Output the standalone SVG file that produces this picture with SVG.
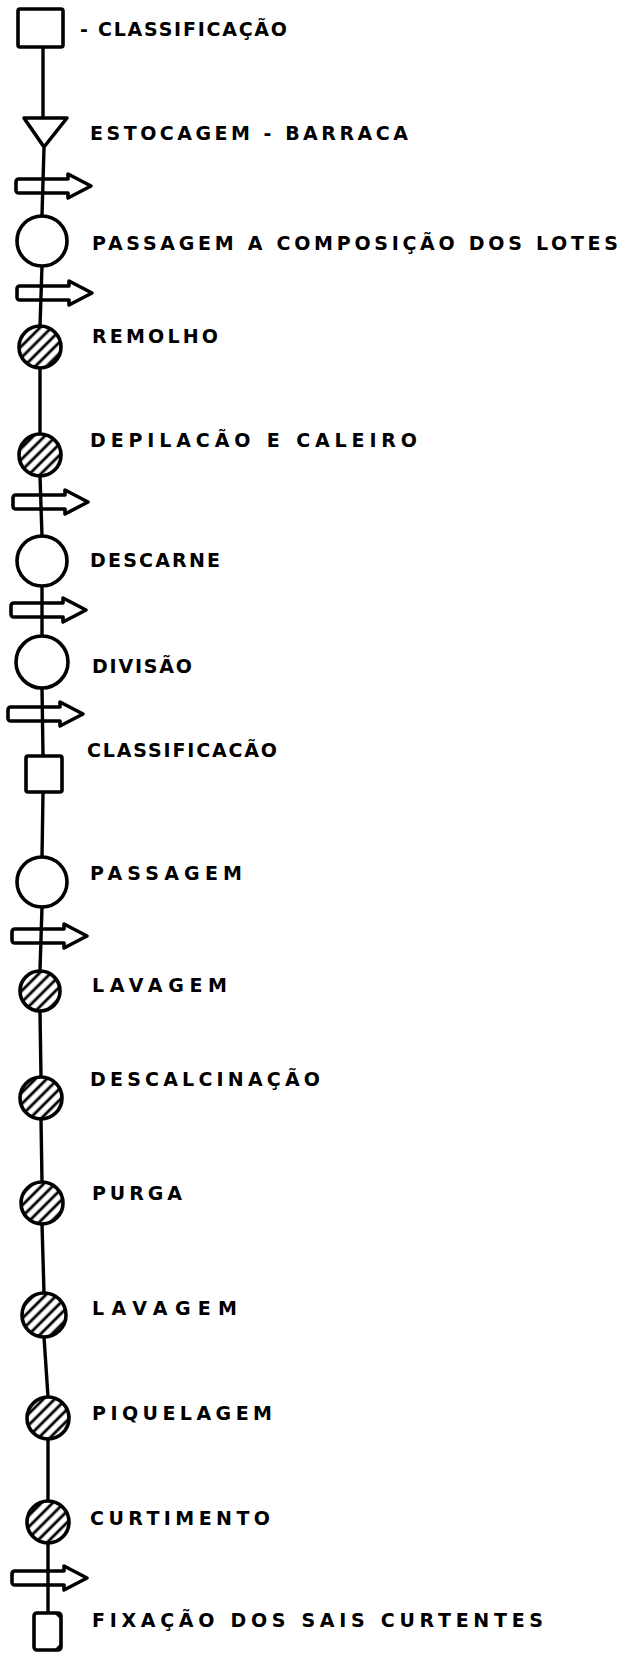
<svg xmlns="http://www.w3.org/2000/svg" width="624" height="1658" viewBox="0 0 624 1658">
<style>
.n{fill:#fff;stroke:#000;stroke-width:3.6}
.h{fill:url(#hatch);stroke:#000;stroke-width:3.6}
.a{fill:none;stroke:#000;stroke-width:3.6;stroke-linejoin:round}
.c{stroke:#000;stroke-width:3.4;fill:none}
.t{font-family:"DejaVu Sans","Liberation Sans",sans-serif;font-weight:bold;font-size:19px;fill:#000}
</style>
<defs>
<pattern id="hatch" width="8" height="8" patternUnits="userSpaceOnUse" patternTransform="rotate(45)">
<rect width="8" height="8" fill="#fff"/>
<line x1="4" y1="0" x2="4" y2="8" stroke="#000" stroke-width="2.8"/>
</pattern>
<path id="arr" d="M3,-7 L52,-7 L52,-12 L75,0 L52,12 L52,7 L3,7 Q0,7 0,4 L0,-4 Q0,-7 3,-7 Z"/>
</defs>
<g id="connectors">
<line class="c" x1="43" y1="48" x2="43" y2="117"/>
<line class="c" x1="44" y1="148" x2="42" y2="215"/>
<line class="c" x1="42" y1="266" x2="40" y2="326"/>
<line class="c" x1="40" y1="368" x2="40" y2="434"/>
<line class="c" x1="40" y1="476" x2="42" y2="536"/>
<line class="c" x1="42" y1="586" x2="42" y2="636"/>
<line class="c" x1="42" y1="688" x2="43" y2="755"/>
<line class="c" x1="43" y1="793" x2="42" y2="857"/>
<line class="c" x1="42" y1="907" x2="40" y2="970"/>
<line class="c" x1="40" y1="1012" x2="41" y2="1077"/>
<line class="c" x1="41" y1="1119" x2="42" y2="1182"/>
<line class="c" x1="42" y1="1224" x2="44" y2="1293"/>
<line class="c" x1="44" y1="1337" x2="48" y2="1397"/>
<line class="c" x1="48" y1="1439" x2="48" y2="1501"/>
<line class="c" x1="48" y1="1543" x2="48" y2="1612"/>
</g>
<g id="n1"><rect class="n" x="18" y="9" width="45" height="38" rx="2"/><text class="t" x="80" y="36" textLength="207" lengthAdjust="spacing">- CLASSIFICAÇÃO</text></g>
<g id="n2"><polygon class="n" points="24,118 67,118 44,147" stroke-linejoin="round"/><text class="t" x="90" y="140" textLength="318" lengthAdjust="spacing">ESTOCAGEM - BARRACA</text></g>
<g id="a1"><use href="#arr" class="a" transform="translate(16,186)"/></g>
<g id="n3"><circle class="n" cx="42" cy="241" r="25"/><text class="t" x="92" y="250" textLength="526" lengthAdjust="spacing">PASSAGEM A  COMPOSIÇÃO DOS LOTES</text></g>
<g id="a2"><use href="#arr" class="a" transform="translate(17,293)"/></g>
<g id="n4"><circle class="h" cx="40" cy="347" r="21"/><text class="t" x="92" y="343" textLength="126" lengthAdjust="spacing">REMOLHO</text></g>
<g id="n5"><circle class="h" cx="40" cy="455" r="21"/><text class="t" x="90" y="447" textLength="327" lengthAdjust="spacing">DEPILACÃO E CALEIRO</text></g>
<g id="a3"><use href="#arr" class="a" transform="translate(13,502)"/></g>
<g id="n6"><circle class="n" cx="42" cy="561" r="25"/><text class="t" x="90" y="567" textLength="130" lengthAdjust="spacing">DESCARNE</text></g>
<g id="a4"><use href="#arr" class="a" transform="translate(11,610)"/></g>
<g id="n7"><circle class="n" cx="42" cy="662" r="26"/><text class="t" x="92" y="673" textLength="100" lengthAdjust="spacing">DIVISÃO</text></g>
<g id="a5"><use href="#arr" class="a" transform="translate(8,714)"/></g>
<g id="n8"><rect class="n" x="26" y="756" width="36" height="36" rx="2"/><text class="t" x="87" y="757" textLength="190" lengthAdjust="spacing">CLASSIFICACÃO</text></g>
<g id="n9"><circle class="n" cx="42" cy="882" r="25"/><text class="t" x="90" y="880" textLength="152" lengthAdjust="spacing">PASSAGEM</text></g>
<g id="a6"><use href="#arr" class="a" transform="translate(12,936)"/></g>
<g id="n10"><circle class="h" cx="40" cy="991" r="20"/><text class="t" x="92" y="992" textLength="135" lengthAdjust="spacing">LAVAGEM</text></g>
<g id="n11"><circle class="h" cx="41" cy="1098" r="21"/><text class="t" x="90" y="1086" textLength="230" lengthAdjust="spacing">DESCALCINAÇÃO</text></g>
<g id="n12"><circle class="h" cx="42" cy="1203" r="21"/><text class="t" x="92" y="1200" textLength="90" lengthAdjust="spacing">PURGA</text></g>
<g id="n13"><circle class="h" cx="44" cy="1315" r="22"/><text class="t" x="92" y="1315" textLength="145" lengthAdjust="spacing">LAVAGEM</text></g>
<g id="n14"><circle class="h" cx="48" cy="1418" r="21"/><text class="t" x="92" y="1420" textLength="180" lengthAdjust="spacing">PIQUELAGEM</text></g>
<g id="n15"><circle class="h" cx="48" cy="1522" r="21"/><text class="t" x="90" y="1525" textLength="180" lengthAdjust="spacing">CURTIMENTO</text></g>
<g id="a7"><use href="#arr" class="a" transform="translate(12,1578)"/></g>
<g id="n16"><rect class="n" x="34" y="1613" width="27" height="37" rx="3"/><polygon points="53,1612 61,1612 61,1620" fill="#000"/><polygon points="53,1651 61,1651 61,1643" fill="#000"/><text class="t" x="92" y="1627" textLength="451" lengthAdjust="spacing">FIXAÇÃO  DOS  SAIS  CURTENTES</text></g>
</svg>
